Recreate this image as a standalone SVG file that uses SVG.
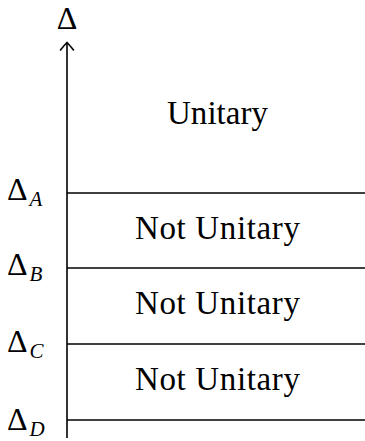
<svg xmlns="http://www.w3.org/2000/svg" width="365" height="441" viewBox="0 0 365 441">
<style>
.ln{stroke:#000;stroke-width:1.6;fill:none}
.t{font-family:'Liberation Serif',serif;font-size:32px;fill:#000}
.r{font-size:33px}
.sub{font-size:21px;font-style:italic}
</style>
<rect width="365" height="441" fill="#fff"/>
<g id="connectors">
<line class="ln" x1="67" y1="43" x2="67" y2="438"/>
<path class="ln" d="M60.5,50 Q64,45.5 67,42.5 Q70,45.5 73.5,50" stroke-linecap="round"/>
<line class="ln" x1="67" y1="193" x2="365" y2="193"/>
<line class="ln" x1="67" y1="268" x2="365" y2="268"/>
<line class="ln" x1="67" y1="344" x2="365" y2="344"/>
<line class="ln" x1="67" y1="420" x2="365" y2="420"/>
</g>
<g id="axis-label"><text class="t" x="67" y="29" text-anchor="middle">Δ</text></g>
<g id="label-A"><text class="t" x="7" y="200">Δ<tspan class="sub" dx="2" dy="6">A</tspan></text></g>
<g id="label-B"><text class="t" x="7" y="275">Δ<tspan class="sub" dx="2" dy="6">B</tspan></text></g>
<g id="label-C"><text class="t" x="7" y="352">Δ<tspan class="sub" dx="2" dy="6">C</tspan></text></g>
<g id="label-D"><text class="t" x="7" y="430">Δ<tspan class="sub" dx="2" dy="6">D</tspan></text></g>
<g id="region-1"><text class="t r" x="167" y="124" textLength="101" lengthAdjust="spacing">Unitary</text></g>
<g id="region-2"><text class="t r" x="135" y="239" textLength="165" lengthAdjust="spacing">Not Unitary</text></g>
<g id="region-3"><text class="t r" x="135" y="314" textLength="165" lengthAdjust="spacing">Not Unitary</text></g>
<g id="region-4"><text class="t r" x="135" y="390" textLength="165" lengthAdjust="spacing">Not Unitary</text></g>
</svg>
